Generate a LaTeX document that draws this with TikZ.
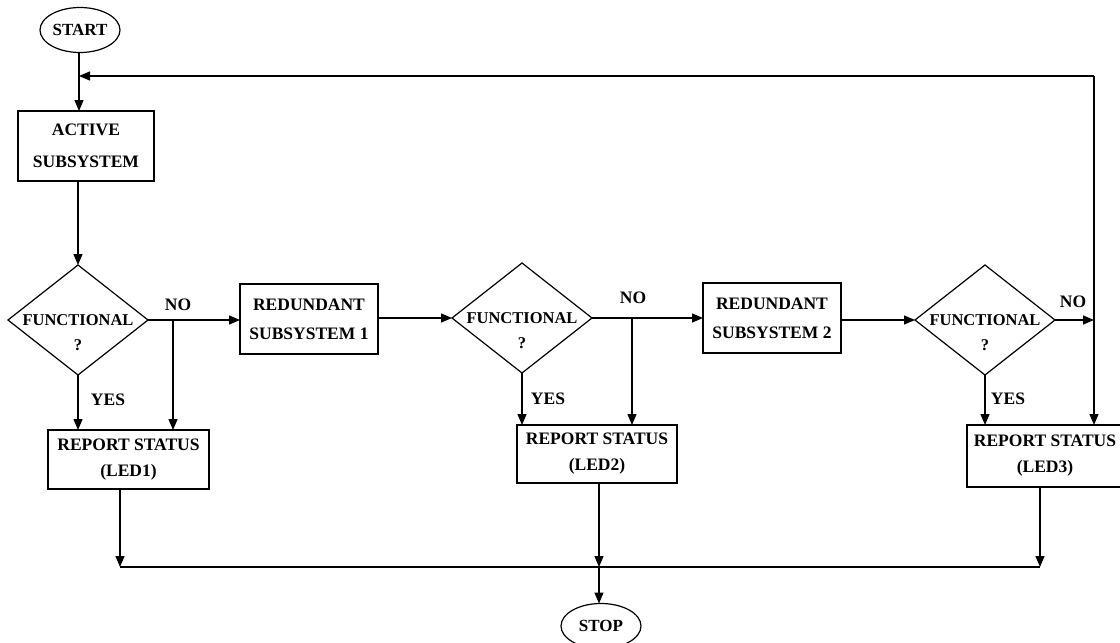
\documentclass[tikz,border=0pt]{standalone}
\usepackage{fontspec}
\setmainfont{Liberation Serif}
\usetikzlibrary{shapes.geometric,arrows.meta}
\begin{document}
\begin{tikzpicture}[x=1pt,y=-1pt,
  every node/.style={inner sep=0pt,outer sep=0pt},
  conn/.style={line width=1.4pt},
  arr/.style={conn,-{Triangle[length=11pt,width=9pt]}},
  box/.style={draw,line width=1.4pt,rectangle,align=center},
  term/.style={draw,line width=1.2pt,ellipse,minimum width=80pt,minimum height=45pt,font=\bfseries\fontsize{17}{18}\selectfont},
  dec/.style={draw,line width=1.2pt,diamond,minimum width=140pt,minimum height=110pt},
  dectext/.style={align=center,font=\bfseries\fontsize{16.5}{25}\selectfont},
  lbl/.style={font=\bfseries\fontsize{17.5}{18}\selectfont}]
\useasboundingbox (0,0) rectangle (1120,643);

% nodes
\node[term] (start) at (80,30) {START};
\node[box,minimum width=136pt,minimum height=70pt,font=\bfseries\fontsize{17.5}{32}\selectfont] (active) at (86,146) {ACTIVE\\SUBSYSTEM};
\node[dec] (d1) at (78,320) {};
\node[dectext] (t1) at (78,333) {FUNCTIONAL\\?};
\node[box,minimum width=138pt,minimum height=70pt,font=\bfseries\fontsize{17.5}{29}\selectfont] (red1) at (309,319) {REDUNDANT\\SUBSYSTEM 1};
\node[box,minimum width=161pt,minimum height=59pt,font=\bfseries\fontsize{17.5}{26}\selectfont] (rep1) at (128.5,459.5) {REPORT STATUS\\(LED1)};
\node[dec] (d2) at (522,318) {};
\node[dectext] (t2) at (522,331) {FUNCTIONAL\\?};
\node[box,minimum width=160pt,minimum height=58pt,font=\bfseries\fontsize{17.5}{26}\selectfont] (rep2) at (597,454) {REPORT STATUS\\(LED2)};
\node[box,minimum width=138pt,minimum height=70pt,font=\bfseries\fontsize{17.5}{29}\selectfont] (red2) at (772,318) {REDUNDANT\\SUBSYSTEM 2};
\node[dec] (d3) at (985,320) {};
\node[dectext] (t3) at (985,333) {FUNCTIONAL\\?};
\node[box,minimum width=156pt,minimum height=62pt,font=\bfseries\fontsize{17.5}{26}\selectfont] (rep3) at (1045,456) {REPORT STATUS\\(LED3)};
\node[term] (stop) at (601,626) {STOP};

% labels
\node[lbl] (no1) at (178,305) {NO};
\node[lbl] (no2) at (633,298) {NO};
\node[lbl] (no3) at (1073,302) {NO};
\node[lbl] (yes1) at (108,400) {YES};
\node[lbl] (yes2) at (548,399) {YES};
\node[lbl] (yes3) at (1008,399) {YES};

% helper coordinates
\coordinate (ret) at (79,76);
\coordinate (tr) at (1094,76);
\coordinate (b1) at (173,320);
\coordinate (b2) at (632,318);
\coordinate (b3) at (1094,320);
\coordinate (l1) at (120,567);
\coordinate (l2) at (599,567);
\coordinate (l3) at (1040,567);

% connectors
\draw[arr] (ret |- start.south) -- (ret |- active.north);
\draw[arr] (d1.north |- active.south) -- (d1.north);
\draw[arr] (d1.east) -- (d1.east -| red1.west);
\draw[arr] (b1) -- (b1 |- rep1.north);
\draw[arr] (d1.south) -- (d1.south |- rep1.north);
\draw[arr] (red1.east |- d2.west) -- (d2.west);
\draw[arr] (d2.east) -- (d2.east -| red2.west);
\draw[arr] (b2) -- (b2 |- rep2.north);
\draw[arr] (d2.south) -- (d2.south |- rep2.north);
\draw[arr] (red2.east |- d3.west) -- (d3.west);
\draw[arr] (d3.east) -- (b3);
\draw[arr] (d3.south) -- (d3.south |- rep3.north);
\draw[arr] (tr) -- (tr |- rep3.north);
\draw[arr] (tr) -- (ret);
\draw[arr] (l1 |- rep1.south) -- (l1);
\draw[arr] (l2 |- rep2.south) -- (l2);
\draw[arr] (l3 |- rep3.south) -- (l3);
\draw[conn] (l1) -- (l3);
\draw[arr] (l2) -- (l2 |- stop.north);
\end{tikzpicture}
\end{document}
